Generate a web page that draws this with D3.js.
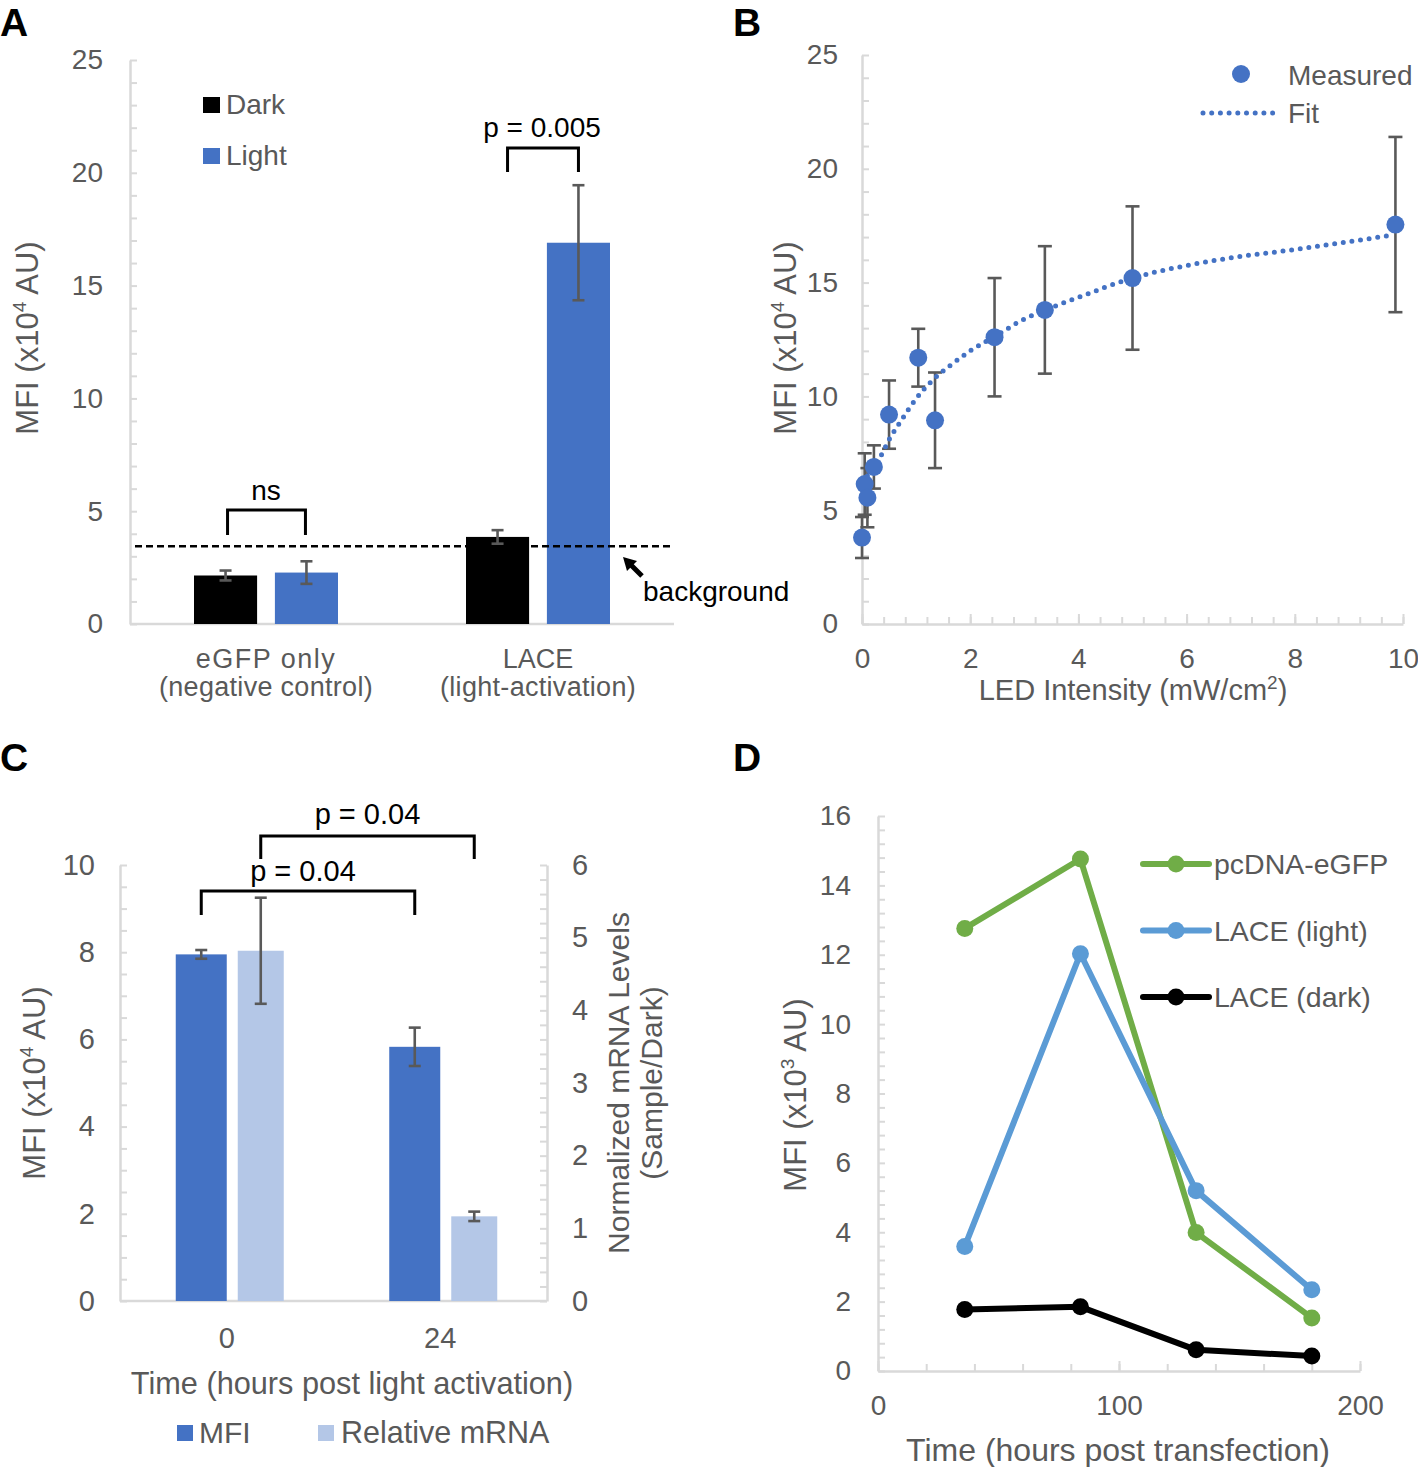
<!DOCTYPE html>
<html>
<head>
<meta charset="utf-8">
<script src="https://cdn.jsdelivr.net/npm/d3@7"></script>
<style>
  body { margin: 0; background: #fff; }
  svg { display: block; font-family: "Liberation Sans", Arial, sans-serif; }
</style>
</head>
<body>
<svg id="fig" width="1418" height="1467"></svg>
<script>
// ---------- panel A: MFI, dark vs light ----------
const aGroups = ["eGFP only", "LACE"];
const aGroupSub = ["(negative control)", "(light-activation)"];
const aSeries = ["Dark", "Light"];
const aDark = [2.15, 3.86];
const aDarkErr = [0.22, 0.3];
const aLight = [2.28, 16.9];
const aLightErr = [0.5, 2.55];
const aBackground = 3.45;
const aTicks = [0, 5, 10, 15, 20, 25];

// ---------- panel B: dose response ----------
const bIntensity = [0, 0.05, 0.1, 0.22, 0.5, 1.04, 1.35, 2.45, 3.38, 5.0, 9.86];
const bMfi = [3.8, 6.15, 5.55, 6.9, 9.2, 11.7, 8.95, 12.6, 13.8, 15.2, 17.55];
const bErr = [0.9, 1.35, 1.3, 0.95, 1.5, 1.27, 2.1, 2.6, 2.8, 3.15, 3.85];
const fitIntensity = [0.1, 0.2, 0.35, 0.5, 0.7, 1.0, 1.3, 1.6, 2.0, 2.5, 3.0, 3.5, 4.0, 5.0, 6.0, 7.0, 8.0, 9.0, 9.85];
const fitMfi = [6.5, 7.0, 7.4, 8.1, 8.85, 9.9, 10.7, 11.3, 12.0, 12.7, 13.4, 13.9, 14.35, 15.2, 15.75, 16.15, 16.45, 16.8, 17.1];
const bTicksX = [0, 2, 4, 6, 8, 10];
const bTicksY = [0, 5, 10, 15, 20, 25];

// ---------- panel C: time after activation ----------
const cTimes = ["0", "24"];
const cMfi = [7.95, 5.83];
const cMfiErr = [0.1, 0.44];
const cMrna = [4.82, 1.165];
const cMrnaErr = [0.73, 0.065];
const cTicksLeft = [0, 2, 4, 6, 8, 10];
const cTicksRight = [0, 1, 2, 3, 4, 5, 6];

// ---------- panel D: time after transfection ----------
const dHours = [36, 84, 132, 180];
const dEgfp = [12.76, 14.76, 3.99, 1.53];
const dLight = [3.59, 12.03, 5.2, 2.34];
const dDark = [1.77, 1.85, 0.61, 0.43];
const dSeries = ["pcDNA-eGFP", "LACE (light)", "LACE (dark)"];
const dTicksX = [0, 100, 200];
const dTicksY = [0, 2, 4, 6, 8, 10, 12, 14, 16];

const AXIS = "#d9d9d9", TXT = "#595959", ERR = "#595959";
const BLUE = "#4472c4", PALE = "#b4c7e7";
const svg = d3.select("#fig");

function styleAxis(g, fs) {
  g.attr("font-family", null).attr("font-size", null);
  g.select(".domain").attr("stroke", AXIS).attr("stroke-width", 2.5);
  g.selectAll(".tick line").attr("stroke", AXIS).attr("stroke-width", 2);
  g.selectAll(".tick text").attr("fill", TXT).style("font-size", fs + "px");
}

// axis line + inner minor ticks + labels
function yAxis(scale, x, majors, step, pad, fs, right) {
  const d = scale.domain();
  const minors = d3.range(d[0], d[1] + step / 2, step);
  const ax = right ? d3.axisRight(scale) : d3.axisLeft(scale);
  svg.append("g").attr("transform", `translate(${x},0)`)
    .call(ax.tickValues(minors).tickSize(-7).tickSizeOuter(0).tickFormat(""))
    .call(g => styleAxis(g, fs));
  const ax2 = right ? d3.axisRight(scale) : d3.axisLeft(scale);
  svg.append("g").attr("transform", `translate(${x},0)`)
    .call(ax2.tickValues(majors).tickSize(0).tickPadding(pad).tickFormat(d3.format("d")))
    .call(g => g.select(".domain").remove())
    .call(g => styleAxis(g, fs));
}

function xAxisLinear(scale, y, majors, step, pad, fs) {
  const d = scale.domain();
  const minors = d3.range(d[0], d[1] + step / 2, step);
  svg.append("g").attr("transform", `translate(0,${y})`)
    .call(d3.axisBottom(scale).tickValues(minors).tickSize(-7).tickSizeOuter(0).tickFormat(""))
    .call(g => styleAxis(g, fs));
  svg.append("g").attr("transform", `translate(0,${y})`)
    .call(d3.axisBottom(scale).tickValues(majors).tickSize(-10).tickPadding(pad).tickFormat(d3.format("d")))
    .call(g => g.select(".domain").remove())
    .call(g => styleAxis(g, fs));
}

function yTitle(x, y, fs, pre, sup, post) {
  const t = svg.append("text").attr("transform", `translate(${x},${y}) rotate(-90)`)
    .attr("text-anchor", "middle").attr("fill", TXT).style("font-size", fs + "px");
  t.append("tspan").text(pre);
  t.append("tspan").attr("dy", -fs * 0.38).style("font-size", (fs * 0.62) + "px").text(sup);
  t.append("tspan").attr("dy", fs * 0.38).text(post);
  return t;
}

function errBars(g, xs, ys, es, yScale, cap) {
  xs.forEach((x, i) => {
    const y0 = yScale(ys[i] - es[i]), y1 = yScale(ys[i] + es[i]);
    g.append("line").attr("x1", x).attr("x2", x).attr("y1", y0).attr("y2", y1);
    g.append("line").attr("x1", x - cap).attr("x2", x + cap).attr("y1", y0).attr("y2", y0);
    g.append("line").attr("x1", x - cap).attr("x2", x + cap).attr("y1", y1).attr("y2", y1);
  });
  g.attr("stroke", ERR).attr("stroke-width", 2.6);
}

function bracket(x0, x1, yTop, yBot) {
  svg.append("path")
    .attr("d", `M${x0},${yBot}V${yTop}H${x1}V${yBot}`)
    .attr("fill", "none").attr("stroke", "#000").attr("stroke-width", 3);
}

function label(x, y, txt, fs, anchor, fill, weight) {
  return svg.append("text").attr("x", x).attr("y", y).attr("text-anchor", anchor || "start")
    .attr("fill", fill || TXT).style("font-size", fs + "px")
    .style("font-weight", weight || "normal").text(txt);
}

// panel letters
label(0, 36, "A", 39, "start", "#000", "bold");
label(733, 36, "B", 39, "start", "#000", "bold");
label(0, 771, "C", 39, "start", "#000", "bold");
label(733, 771, "D", 39, "start", "#000", "bold");

// ================= A =================
{
  const y = d3.scaleLinear().domain([0, 25]).range([624, 60]);
  const x = d3.scaleBand().domain(aGroups).range([130, 674]);
  const inner = d3.scaleBand().domain(aSeries)
    .range([x.bandwidth() / 2 - 72, x.bandwidth() / 2 + 72]).paddingInner(0.22);

  yAxis(y, 130, aTicks, 1, 27, 28, false);
  svg.append("line").attr("x1", 130).attr("x2", 674).attr("y1", y(0)).attr("y2", y(0))
    .attr("stroke", AXIS).attr("stroke-width", 2.5);

  const vals = { Dark: aDark, Light: aLight };
  const errs = { Dark: aDarkErr, Light: aLightErr };
  const cols = { Dark: "#000", Light: BLUE };
  aSeries.forEach(s => {
    svg.append("g").selectAll("rect").data(aGroups).join("rect")
      .attr("x", g => x(g) + inner(s))
      .attr("width", inner.bandwidth())
      .attr("y", (g, i) => y(vals[s][i]))
      .attr("height", (g, i) => y(0) - y(vals[s][i]))
      .attr("fill", cols[s]);
    errBars(svg.append("g"), aGroups.map(g => x(g) + inner(s) + inner.bandwidth() / 2),
      vals[s], errs[s], y, 6);
  });

  aGroups.forEach((g, i) => {
    const cx = x(g) + x.bandwidth() / 2;
    label(cx, 668, g, 27, "middle").style("letter-spacing", i === 0 ? "1.5px" : "0px");
    label(cx, 696, aGroupSub[i], 27, "middle").style("letter-spacing", "0.3px");
  });

  // legend
  aSeries.forEach((s, i) => {
    svg.append("rect").attr("x", 203).attr("y", 97 + i * 51).attr("width", 17).attr("height", 16).attr("fill", cols[s]);
    label(226, 114 + i * 51, s, 28);
  });

  // background line and arrow
  svg.append("line").attr("x1", 135).attr("x2", 674).attr("y1", y(aBackground)).attr("y2", y(aBackground))
    .attr("stroke", "#000").attr("stroke-width", 2.5).attr("stroke-dasharray", "7 4");
  svg.append("line").attr("x1", 642).attr("y1", 576).attr("x2", 630).attr("y2", 564)
    .attr("stroke", "#000").attr("stroke-width", 5);
  svg.append("path").attr("d", "M623,557 L637,561 L627,571 Z").attr("fill", "#000");
  label(643, 601, "background", 28, "start", "#000");

  // significance
  const c0 = x(aGroups[0]) + inner("Dark") + inner.bandwidth() / 2;
  const c1 = x(aGroups[0]) + inner("Light") + inner.bandwidth() / 2;
  bracket(c0 + 2, c1 - 1, 510, 535);
  label((c0 + c1) / 2, 500, "ns", 28, "middle", "#000");
  const d0 = x(aGroups[1]) + inner("Dark") + inner.bandwidth() / 2;
  const d1 = x(aGroups[1]) + inner("Light") + inner.bandwidth() / 2;
  bracket(d0 + 10, d1, 148, 172);
  label((d0 + d1) / 2 + 4, 137, "p = 0.005", 28, "middle", "#000");

  yTitle(38, 338, 31, "MFI (x10", "4", " AU)");
}

// ================= B =================
{
  const x = d3.scaleLinear().domain([0, 10]).range([862, 1403]);
  const y = d3.scaleLinear().domain([0, 25]).range([624, 55]);
  yAxis(y, 862, bTicksY, 1, 24, 28, false);
  xAxisLinear(x, 624, bTicksX, 0.4, 24, 28);

  errBars(svg.append("g"), bIntensity.map(x), bMfi, bErr, y, 7);

  const line = d3.line().x((d, i) => x(fitIntensity[i])).y(d => y(d)).curve(d3.curveMonotoneX);
  svg.append("path").datum(fitMfi).attr("d", line)
    .attr("fill", "none").attr("stroke", BLUE).attr("stroke-width", 5)
    .attr("stroke-linecap", "round").attr("stroke-dasharray", "0 8.7");

  svg.append("g").selectAll("circle").data(bMfi).join("circle")
    .attr("cx", (d, i) => x(bIntensity[i])).attr("cy", d => y(d)).attr("r", 9).attr("fill", BLUE);

  // legend
  svg.append("circle").attr("cx", 1241).attr("cy", 74).attr("r", 9).attr("fill", BLUE);
  label(1288, 85, "Measured", 28);
  svg.append("line").attr("x1", 1203).attr("x2", 1277).attr("y1", 113).attr("y2", 113)
    .attr("stroke", BLUE).attr("stroke-width", 5).attr("stroke-linecap", "round").attr("stroke-dasharray", "0 8.7");
  label(1288, 123, "Fit", 28);

  yTitle(796, 338, 31, "MFI (x10", "4", " AU)");
  const t = svg.append("text").attr("x", 1133).attr("y", 700).attr("text-anchor", "middle")
    .attr("fill", TXT).style("font-size", "29px");
  t.append("tspan").text("LED Intensity (mW/cm");
  t.append("tspan").attr("dy", -11).style("font-size", "19px").text("2");
  t.append("tspan").attr("dy", 11).text(")");
}

// ================= C =================
{
  const x = d3.scaleBand().domain(cTimes).range([120, 547]);
  const yL = d3.scaleLinear().domain([0, 10]).range([1301, 865]);
  const yR = d3.scaleLinear().domain([0, 6]).range([1301, 865]);
  yAxis(yL, 120, cTicksLeft, 0.5, 25, 29, false);
  yAxis(yR, 547, cTicksRight, 0.2, 25, 29, true);
  svg.append("line").attr("x1", 120).attr("x2", 547).attr("y1", 1301).attr("y2", 1301)
    .attr("stroke", AXIS).attr("stroke-width", 2.5);

  const mfiW = 51, mrnaW = 46, gap = 11;
  const cx = t => x(t) + x.bandwidth() / 2;
  svg.append("g").selectAll("rect").data(cTimes).join("rect")
    .attr("x", t => cx(t) - mfiW).attr("width", mfiW)
    .attr("y", (t, i) => yL(cMfi[i])).attr("height", (t, i) => yL(0) - yL(cMfi[i]))
    .attr("fill", BLUE);
  svg.append("g").selectAll("rect").data(cTimes).join("rect")
    .attr("x", t => cx(t) + gap).attr("width", mrnaW)
    .attr("y", (t, i) => yR(cMrna[i])).attr("height", (t, i) => yR(0) - yR(cMrna[i]))
    .attr("fill", PALE);
  errBars(svg.append("g"), cTimes.map(t => cx(t) - mfiW / 2), cMfi, cMfiErr, yL, 6);
  errBars(svg.append("g"), cTimes.map(t => cx(t) + gap + mrnaW / 2), cMrna, cMrnaErr, yR, 6);

  cTimes.forEach(t => label(cx(t), 1348, t, 29, "middle"));
  label(352, 1394, "Time (hours post light activation)", 30.7, "middle");

  // brackets
  const m0 = cx(cTimes[0]) - mfiW / 2, m1 = cx(cTimes[1]) - mfiW / 2;
  const r0 = cx(cTimes[0]) + gap + mrnaW / 2, r1 = cx(cTimes[1]) + gap + mrnaW / 2;
  bracket(m0, m1, 891, 915);
  label((m0 + m1) / 2 - 5, 881, "p = 0.04", 29, "middle", "#000");
  bracket(r0, r1, 836, 859);
  label((r0 + r1) / 2, 824, "p = 0.04", 29, "middle", "#000");

  // legend
  svg.append("rect").attr("x", 177).attr("y", 1425).attr("width", 16).attr("height", 16).attr("fill", BLUE);
  label(199, 1443, "MFI", 30);
  svg.append("rect").attr("x", 318).attr("y", 1425).attr("width", 16).attr("height", 16).attr("fill", PALE);
  label(341, 1443, "Relative mRNA", 30.5);

  yTitle(45, 1083, 31, "MFI (x10", "4", " AU)");
  svg.append("text").attr("transform", "translate(629,1083) rotate(-90)").attr("text-anchor", "middle")
    .attr("fill", TXT).style("font-size", "30px").text("Normalized mRNA Levels");
  svg.append("text").attr("transform", "translate(662,1083) rotate(-90)").attr("text-anchor", "middle")
    .attr("fill", TXT).style("font-size", "30px").text("(Sample/Dark)");
}

// ================= D =================
{
  const x = d3.scaleLinear().domain([0, 200]).range([878, 1360]);
  const y = d3.scaleLinear().domain([0, 16]).range([1371, 816]);
  yAxis(y, 878, dTicksY, 0.4, 27, 28, false);
  xAxisLinear(x, 1371, dTicksX, 20, 24, 28);

  const cols = ["#70ad47", "#5b9bd5", "#000"];
  const series = [dEgfp, dLight, dDark];
  const line = d3.line().x((d, i) => x(dHours[i])).y(d => y(d));
  series.forEach((s, k) => {
    svg.append("path").datum(s).attr("d", line).attr("fill", "none")
      .attr("stroke", cols[k]).attr("stroke-width", 6).attr("stroke-linejoin", "round");
    svg.append("g").selectAll("circle").data(s).join("circle")
      .attr("cx", (d, i) => x(dHours[i])).attr("cy", d => y(d)).attr("r", 8.5).attr("fill", cols[k]);
  });

  // legend
  dSeries.forEach((s, k) => {
    const ly = 864 + k * 66.5;
    svg.append("line").attr("x1", 1143).attr("x2", 1209).attr("y1", ly).attr("y2", ly)
      .attr("stroke", cols[k]).attr("stroke-width", 6).attr("stroke-linecap", "round");
    svg.append("circle").attr("cx", 1176).attr("cy", ly).attr("r", 8.5).attr("fill", cols[k]);
    label(1214, ly + 10, s, 28.5);
  });

  yTitle(806, 1095, 31, "MFI (x10", "3", " AU)");
  label(1118, 1461, "Time (hours post transfection)", 32, "middle");
}
</script>
</body>
</html>
